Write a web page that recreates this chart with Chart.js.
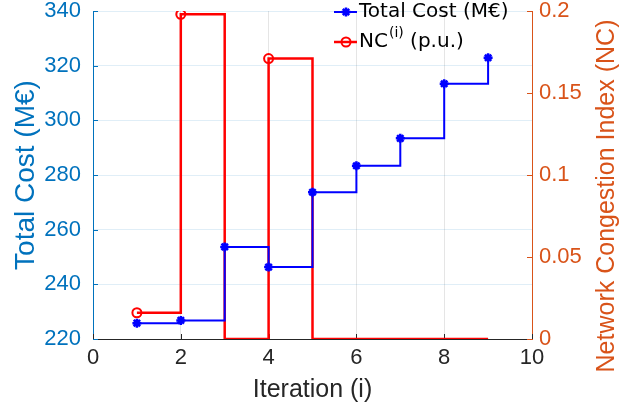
<!DOCTYPE html>
<html>
<head>
<meta charset="utf-8">
<script src="https://cdn.jsdelivr.net/npm/chart.js@4"></script>
<style>
  html, body { margin: 0; padding: 0; background: #fff; }
  #wrap { width: 641px; height: 409px; }
</style>
</head>
<body>
<div id="wrap"><canvas id="chart" width="641" height="409"></canvas></div>
<script>
// values
const iterations = [1, 2, 3, 4, 5, 6, 7, 8, 9];
const totalCost = [225.8, 226.8, 253.7, 246.3, 273.7, 283.4, 293.4, 313.4, 322.9];
const congestion = [0.016, 0.198, 0, 0.171, 0, 0, 0, 0, 0];

const xTicks = [0, 2, 4, 6, 8, 10];
const costTicks = [220, 240, 260, 280, 300, 320, 340];
const ncTicks = [0, 0.05, 0.1, 0.15, 0.2];

const costLabel = "Total Cost (M€)";
const ncLabel = "NC⁽ⁱ⁾ (p.u.)";
const ncAxisTitle = "Network Congestion Index (NC)";

const BLUE_AX = "#0072BD", ORANGE_AX = "#D95319", DARK = "#262626";
const FAMILY = "'Liberation Sans', Arial, sans-serif";
const tickFont = { family: FAMILY, size: 22, lineHeight: 1 };
const NONE = "rgba(0,0,0,0)";

const pts = (ys) => iterations.map((x, i) => ({ x, y: ys[i] }));
const fixTicks = (arr) => (scale) => { scale.ticks = arr.map((v) => ({ value: v })); };
const plain = (v) => String(v);

// MATLAB style ticks that point into the plot box
const inwardTicks = {
  id: "inwardTicks",
  beforeDatasetsDraw(chart) {
    const { ctx, chartArea: a, scales } = chart;
    const len = 5;
    ctx.save();
    ctx.lineWidth = 1;
    ctx.strokeStyle = DARK;
    ctx.beginPath();
    xTicks.forEach((v) => {
      const px = Math.round(scales.x.getPixelForValue(v)) + 0.5;
      ctx.moveTo(px, a.bottom); ctx.lineTo(px, a.bottom - len);
    });
    ctx.stroke();
    ctx.strokeStyle = BLUE_AX;
    ctx.beginPath();
    costTicks.forEach((v) => {
      const py = Math.round(scales.y.getPixelForValue(v)) + 0.5;
      ctx.moveTo(a.left, py); ctx.lineTo(a.left + len, py);
    });
    ctx.stroke();
    ctx.strokeStyle = ORANGE_AX;
    ctx.beginPath();
    ncTicks.forEach((v) => {
      const py = Math.round(scales.y2.getPixelForValue(v)) + 0.5;
      ctx.moveTo(a.right, py); ctx.lineTo(a.right - len, py);
    });
    ctx.stroke();
    ctx.restore();
  },
};

// right axis title reads bottom to top, like the left one
const rightTitle = {
  id: "rightTitle",
  afterDraw(chart) {
    const { ctx } = chart;
    ctx.save();
    ctx.translate(607, 196);
    ctx.rotate(-Math.PI / 2);
    ctx.fillStyle = ORANGE_AX;
    ctx.font = "25px " + FAMILY;
    ctx.textAlign = "center";
    ctx.textBaseline = "middle";
    ctx.fillText(ncAxisTitle, 0, 0);
    ctx.restore();
  },
};

// legend inside the top right of the plot, with the superscript of NC(i)
const boxLegend = {
  id: "boxLegend",
  afterDraw(chart) {
    const { ctx } = chart;
    const rows = [
      { ds: chart.data.datasets[0], y: 12 },
      { ds: chart.data.datasets[1], y: 42 },
    ];
    rows.forEach(({ ds, y }) => {
      ctx.save();
      ctx.strokeStyle = ds.borderColor;
      ctx.lineWidth = ds.borderWidth;
      ctx.beginPath();
      ctx.moveTo(334, y); ctx.lineTo(357, y);
      ctx.stroke();
      ctx.fillStyle = ds.pointBackgroundColor;
      ctx.strokeStyle = ds.pointBorderColor;
      ctx.lineWidth = ds.pointBorderWidth;
      Chart.helpers.drawPoint(ctx, { pointStyle: ds.pointStyle, radius: 4.5, borderWidth: ds.pointBorderWidth, rotation: 0 }, 346, y);
      ctx.restore();
    });

    ctx.save();
    ctx.fillStyle = "#000";
    ctx.textBaseline = "middle";
    ctx.font = "20px 'DejaVu Sans'";
    ctx.fillText(costLabel, 359, 12);
    ctx.fillText("NC", 359, 42);
    let x = 359 + ctx.measureText("NC").width + 1;
    ctx.font = "14px 'DejaVu Sans'";
    ctx.fillText("(i)", x, 33);
    x += ctx.measureText("(i)").width;
    ctx.font = "20px 'DejaVu Sans'";
    ctx.fillText(" (p.u.)", x, 42);
    ctx.restore();
  },
};

const chart = new Chart(document.getElementById("chart"), {
  type: "line",
  data: {
    datasets: [
      {
        label: costLabel, data: pts(totalCost), yAxisID: "y",
        stepped: "before", borderColor: "#0000ff", backgroundColor: "#0000ff",
        borderWidth: 2, pointStyle: "star", pointRadius: 4.5, pointBorderWidth: 2.5,
        pointBorderColor: "#0000ff", pointBackgroundColor: "#0000ff",
      },
      {
        label: ncLabel, data: pts(congestion), yAxisID: "y2",
        stepped: "before", borderColor: "#ff0000", backgroundColor: NONE,
        borderWidth: 2.5, pointStyle: "circle",
        pointRadius: (c) => (c.raw && c.raw.y > 0 ? 4.5 : 0), pointBorderWidth: 2,
        pointBorderColor: "#ff0000", pointBackgroundColor: NONE,
      },
    ],
  },
  options: {
    responsive: false, animation: false, devicePixelRatio: 1,
    layout: { padding: 0 },
    plugins: { legend: { display: false }, tooltip: { enabled: false } },
    scales: {
      x: {
        type: "linear", min: 0, max: 10,
        afterBuildTicks: fixTicks(xTicks),
        afterFit: (s) => { s.height = 70; },
        grid: { color: "rgba(38,38,38,0.12)", drawTicks: false },
        border: { color: DARK, width: 1 },
        ticks: { color: DARK, font: tickFont, padding: 8, callback: plain },
        title: { display: true, text: "Iteration (i)", color: DARK, font: { family: FAMILY, size: 25 }, padding: { top: 0, bottom: 4 } },
      },
      y: {
        position: "left", min: 220, max: 340,
        afterBuildTicks: fixTicks(costTicks),
        afterFit: (s) => { s.width = 93; },
        grid: { color: "rgba(0,114,189,0.12)", drawTicks: true, tickLength: 12, tickColor: NONE },
        border: { color: BLUE_AX, width: 1 },
        ticks: { color: BLUE_AX, font: tickFont, padding: 0, callback: plain },
        title: { display: true, text: costLabel, color: BLUE_AX, font: { family: FAMILY, size: 28 }, padding: { top: 9, bottom: 0 } },
      },
      y2: {
        position: "right", min: 0, max: 0.2,
        afterBuildTicks: fixTicks(ncTicks),
        afterFit: (s) => { s.width = 109; },
        grid: { drawOnChartArea: false, drawTicks: true, tickLength: 7, tickColor: NONE },
        border: { color: ORANGE_AX, width: 1 },
        ticks: { color: ORANGE_AX, font: tickFont, padding: 0, callback: plain },
        title: { display: false },
      },
    },
  },
  plugins: [inwardTicks, rightTitle, boxLegend],
});
</script>
</body>
</html>
